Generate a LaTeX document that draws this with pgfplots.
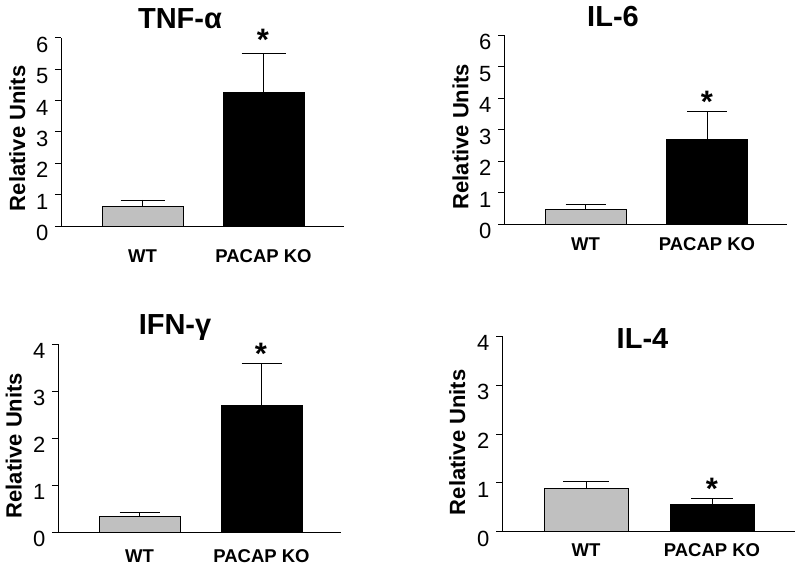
\documentclass[border=0pt]{standalone}
\usepackage{pgfplots}
\pgfplotsset{compat=1.18}
\usepackage{fontspec}
\setmainfont{Liberation Sans}
\definecolor{wtgray}{RGB}{192,192,192}

\pgfplotsset{
  panel/.style={
    scale only axis, anchor=south west,
    axis x line=bottom, axis y line=left,
    axis line style={-, line width=0.8pt},
    xmin=0, ymin=0,
    ybar, bar shift=0pt,
    xtick style={draw=none},
    ytick style={line width=0.8pt, black},
    tick align=outside, major tick length=6pt,
    tick label style={font=\fontsize{22}{22}\selectfont},
    /pgf/number format/assume math mode=true,
    yticklabel style={yshift=-7pt, xshift=-3pt},
    xticklabels={WT, PACAP KO},
    xticklabel style={font=\bfseries\fontsize{18.5}{18.5}\selectfont, anchor=base},
    clip=false,
  },
  wt/.style={fill=wtgray, draw=black, line width=0.6pt,
    error bars/.cd, y dir=plus, y explicit, error mark=|,
    error bar style={line width=0.8pt, black},
    error mark options={mark size=#1, line width=0.8pt, black}},
  ko/.style={fill=black, draw=black, line width=0.6pt,
    error bars/.cd, y dir=plus, y explicit, error mark=|,
    error bar style={line width=0.8pt, black},
    error mark options={mark size=#1, line width=0.8pt, black}},
}
\tikzset{star/.style={font=\bfseries\fontsize{31}{31}\selectfont, yshift=-5pt}}

\begin{document}
\begin{tikzpicture}
\useasboundingbox (0,0) rectangle (800pt,568pt);

% TNF-alpha
\begin{axis}[panel, at={(61pt,342pt)}, width=283pt, height=188.3pt,
  xmax=283, ymax=6, ytick={0,...,6}, xtick={81.5,202.5}, bar width=81pt,
  xticklabel style={yshift=-31pt}]
  \addplot[wt=22pt] coordinates {(81.5,0.63) +- (0,0.20)};
  \addplot[ko=22pt] coordinates {(202.5,4.25) +- (0,1.26)};
  \node[star] at (axis cs:202,6.09) {*};
\end{axis}

% IL-6
\begin{axis}[panel, at={(504pt,343.7pt)}, width=283pt, height=189.3pt,
  xmax=283, ymax=6, ytick={0,...,6}, xtick={81.5,203}, bar width=81pt,
  xticklabel style={yshift=-20pt}]
  \addplot[wt=20pt] coordinates {(81.5,0.49) +- (0,0.15)};
  \addplot[ko=20pt] coordinates {(203,2.70) +- (0,0.88)};
  \node[star] at (axis cs:203,4.04) {*};
\end{axis}

% IFN-gamma
\begin{axis}[panel, at={(58pt,35.7pt)}, width=283pt, height=188.3pt,
  xmax=283, ymax=4, ytick={0,...,4}, xtick={81.5,203.5}, bar width=81pt,
  xticklabel style={yshift=-24pt}]
  \addplot[wt=20pt] coordinates {(81.5,0.33) +- (0,0.09)};
  \addplot[ko=20pt] coordinates {(203.5,2.70) +- (0,0.88)};
  \node[star] at (axis cs:203,3.89) {*};
\end{axis}

% IL-4
\begin{axis}[panel, at={(502pt,36.3pt)}, width=293pt, height=195.4pt,
  xmax=293, ymax=4, ytick={0,...,4}, xtick={84,210}, bar width=84pt,
  xticklabel style={yshift=-19pt}]
  \addplot[wt=23pt] coordinates {(84,0.88) +- (0,0.15)};
  \addplot[ko=21pt] coordinates {(210,0.57) +- (0,0.11)};
  \node[star] at (axis cs:210,0.98) {*};
\end{axis}

% titles
\begin{scope}[every node/.style={font=\bfseries\fontsize{29}{29}\selectfont, anchor=base}]
  \node at (180pt,539.7pt) {TNF-α};
  \node at (613pt,541.3pt) {IL-6};
  \node at (175pt,233.3pt) {IFN-γ};
  \node at (642.5pt,219pt) {IL-4};
\end{scope}

% y labels
\begin{scope}[every node/.style={font=\bfseries\fontsize{22}{22}\selectfont, rotate=90, anchor=base}]
  \node at (25pt,429.7pt) {Relative Units};
  \node at (468.3pt,431.3pt) {Relative Units};
  \node at (21.7pt,122.3pt) {Relative Units};
  \node at (465pt,125.7pt) {Relative Units};
\end{scope}
\end{tikzpicture}
\end{document}
